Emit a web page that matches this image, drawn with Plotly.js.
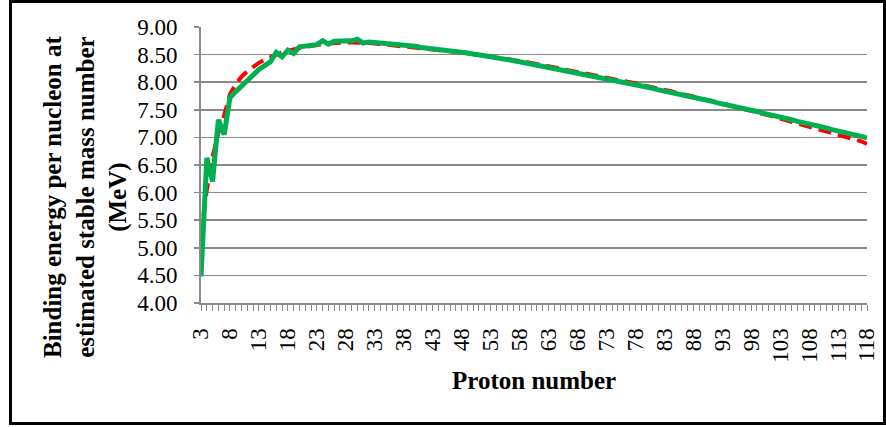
<!DOCTYPE html>
<html>
<head>
<meta charset="utf-8">
<script src="https://cdn.plot.ly/plotly-3.0.1.min.js"></script>
<style>
  html, body { margin: 0; padding: 0; background: #fff; }
  #wrap { position: relative; width: 886px; height: 427px; }
  #chart { position: absolute; left: 0; top: 0; width: 886px; height: 427px; }
  #frame { position: absolute; left: 9px; top: 0; width: 877px; height: 425px;
           border: 3px solid #000; box-sizing: border-box; pointer-events: none; }
</style>
</head>
<body>
<div id="wrap"><div id="chart"></div><div id="frame"></div></div>
<script>
const protonNumbers = [
  3, 4, 5, 6, 7, 8, 9, 10, 11, 12,
  13, 14, 15, 16, 17, 18, 19, 20, 21, 22,
  23, 24, 25, 26, 27, 28, 29, 30, 31, 32,
  33, 34, 35, 36, 37, 38, 39, 40, 41, 42,
  43, 44, 45, 46, 47, 48, 49, 50, 51, 52,
  53, 54, 55, 56, 57, 58, 59, 60, 61, 62,
  63, 64, 65, 66, 67, 68, 69, 70, 71, 72,
  73, 74, 75, 76, 77, 78, 79, 80, 81, 82,
  83, 84, 85, 86, 87, 88, 89, 90, 91, 92,
  93, 94, 95, 96, 97, 98, 99, 100, 101, 102,
  103, 104, 105, 106, 107, 108, 109, 110, 111, 112,
  113, 114, 115, 116, 117, 118
];

// red dashed series
const bindingEnergyRed = [
  5.22, 6.05, 6.65, 7.08, 7.40, 7.78, 7.97, 8.10, 8.20, 8.28,
  8.35, 8.41, 8.46, 8.50, 8.54, 8.57, 8.60, 8.62, 8.64, 8.66,
  8.68, 8.69, 8.70, 8.71, 8.71, 8.72, 8.72, 8.72, 8.71, 8.71,
  8.70, 8.69, 8.68, 8.67, 8.66, 8.65, 8.64, 8.63, 8.62, 8.61,
  8.60, 8.59, 8.58, 8.56, 8.55, 8.54, 8.52, 8.51, 8.50, 8.48,
  8.47, 8.45, 8.44, 8.42, 8.40, 8.39, 8.37, 8.35, 8.33, 8.31,
  8.29, 8.27, 8.25, 8.23, 8.21, 8.19, 8.17, 8.15, 8.13, 8.11,
  8.09, 8.06, 8.04, 8.02, 8.00, 7.98, 7.95, 7.93, 7.91, 7.88,
  7.86, 7.84, 7.81, 7.79, 7.76, 7.74, 7.71, 7.69, 7.66, 7.64,
  7.61, 7.59, 7.56, 7.53, 7.51, 7.48, 7.45, 7.43, 7.40, 7.37,
  7.34, 7.32, 7.29, 7.26, 7.23, 7.20, 7.17, 7.14, 7.11, 7.08,
  7.05, 7.02, 6.99, 6.96, 6.93, 6.88
];

// green solid series
const bindingEnergyGreen = [
  4.48, 6.63, 6.20, 7.32, 7.05, 7.72, 7.83, 7.93, 8.05, 8.15,
  8.23, 8.30, 8.37, 8.54, 8.46, 8.58, 8.52, 8.64, 8.66, 8.67,
  8.68, 8.75, 8.69, 8.74, 8.74, 8.74, 8.75, 8.78, 8.71, 8.73,
  8.72, 8.71, 8.72, 8.70, 8.68, 8.68, 8.66, 8.65, 8.63, 8.62,
  8.61, 8.60, 8.58, 8.57, 8.55, 8.54, 8.53, 8.51, 8.50, 8.48,
  8.46, 8.44, 8.43, 8.41, 8.39, 8.37, 8.35, 8.33, 8.31, 8.29,
  8.27, 8.25, 8.23, 8.21, 8.19, 8.17, 8.15, 8.13, 8.11, 8.08,
  8.06, 8.04, 8.02, 8.00, 7.98, 7.95, 7.93, 7.91, 7.89, 7.86,
  7.84, 7.82, 7.80, 7.77, 7.75, 7.73, 7.70, 7.68, 7.66, 7.63,
  7.61, 7.59, 7.56, 7.54, 7.52, 7.49, 7.47, 7.44, 7.42, 7.39,
  7.37, 7.34, 7.32, 7.29, 7.27, 7.24, 7.22, 7.19, 7.17, 7.14,
  7.12, 7.09, 7.07, 7.04, 7.02, 6.99
];

const xTickValues = [3, 8, 13, 18, 23, 28, 33, 38, 43, 48, 53, 58, 63, 68, 73, 78, 83, 88, 93, 98, 103, 108, 113, 118];
const xTickLabels = ["3", "8", "13", "18", "23", "28", "33", "38", "43", "48", "53", "58", "63", "68", "73", "78", "83", "88", "93", "98", "103", "108", "113", "118"];

const yTitle = "Binding energy per nucleon at<br>estimated stable mass number<br>(MeV)";
const xTitle = "Proton number";

const serif = "'Liberation Serif', 'Times New Roman', serif";
const gridGray = "#8a8a8a";

const traces = [
  {
    x: protonNumbers, y: bindingEnergyRed, type: "scatter", mode: "lines",
    line: { color: "#ff0000", width: 4, dash: "13px,7px" },
    hoverinfo: "skip", showlegend: false
  },
  {
    x: protonNumbers, y: bindingEnergyGreen, type: "scatter", mode: "lines",
    line: { color: "#00b050", width: 5 },
    hoverinfo: "skip", showlegend: false
  }
];

const layout = {
  width: 886, height: 427,
  margin: { l: 201, r: 19, t: 27, b: 124, pad: 0 },
  paper_bgcolor: "#ffffff", plot_bgcolor: "#ffffff",
  font: { family: serif, color: "#000", size: 23 },
  showlegend: false,
  xaxis: {
    type: "linear", range: [3, 118], fixedrange: true,
    tickmode: "array", tickvals: xTickValues, ticktext: xTickLabels,
    tickangle: -90, tickfont: { family: serif, size: 23, color: "#000" },
    ticks: "outside", ticklen: 6, tickwidth: 1, tickcolor: gridGray,
    ticklabelstandoff: 8,
    minor: { tickmode: "linear", tick0: 3, dtick: 1, ticks: "outside", ticklen: 6, tickwidth: 1, tickcolor: gridGray, showgrid: false },
    showgrid: false, zeroline: false,
    showline: true, linecolor: gridGray, linewidth: 2,
    automargin: false
  },
  yaxis: {
    range: [4, 9], fixedrange: true,
    tick0: 4, dtick: 0.5, tickformat: ".2f",
    tickfont: { family: serif, size: 23, color: "#000" },
    ticks: "outside", ticklen: 5, tickwidth: 1.5, tickcolor: gridGray,
    ticklabelstandoff: 12,
    showgrid: true, gridcolor: gridGray, gridwidth: 1.6,
    zeroline: false,
    showline: true, linecolor: gridGray, linewidth: 2,
    automargin: false
  },
  annotations: [
    {
      text: "<b>" + yTitle.split("<br>").join("</b><br><b>") + "</b>",
      xref: "paper", yref: "paper",
      x: (85 - 201) / 666, y: (303 - 197) / 276,
      xanchor: "center", yanchor: "middle",
      textangle: -90, showarrow: false,
      font: { family: serif, size: 25, color: "#000" }
    },
    {
      text: "<b>" + xTitle + "</b>",
      xref: "paper", yref: "paper",
      x: 0.5, y: (303 - 380) / 276,
      xanchor: "center", yanchor: "middle",
      showarrow: false,
      font: { family: serif, size: 25, color: "#000" }
    }
  ]
};

Plotly.newPlot("chart", traces, layout, { displayModeBar: false, staticPlot: true });
</script>
</body>
</html>
